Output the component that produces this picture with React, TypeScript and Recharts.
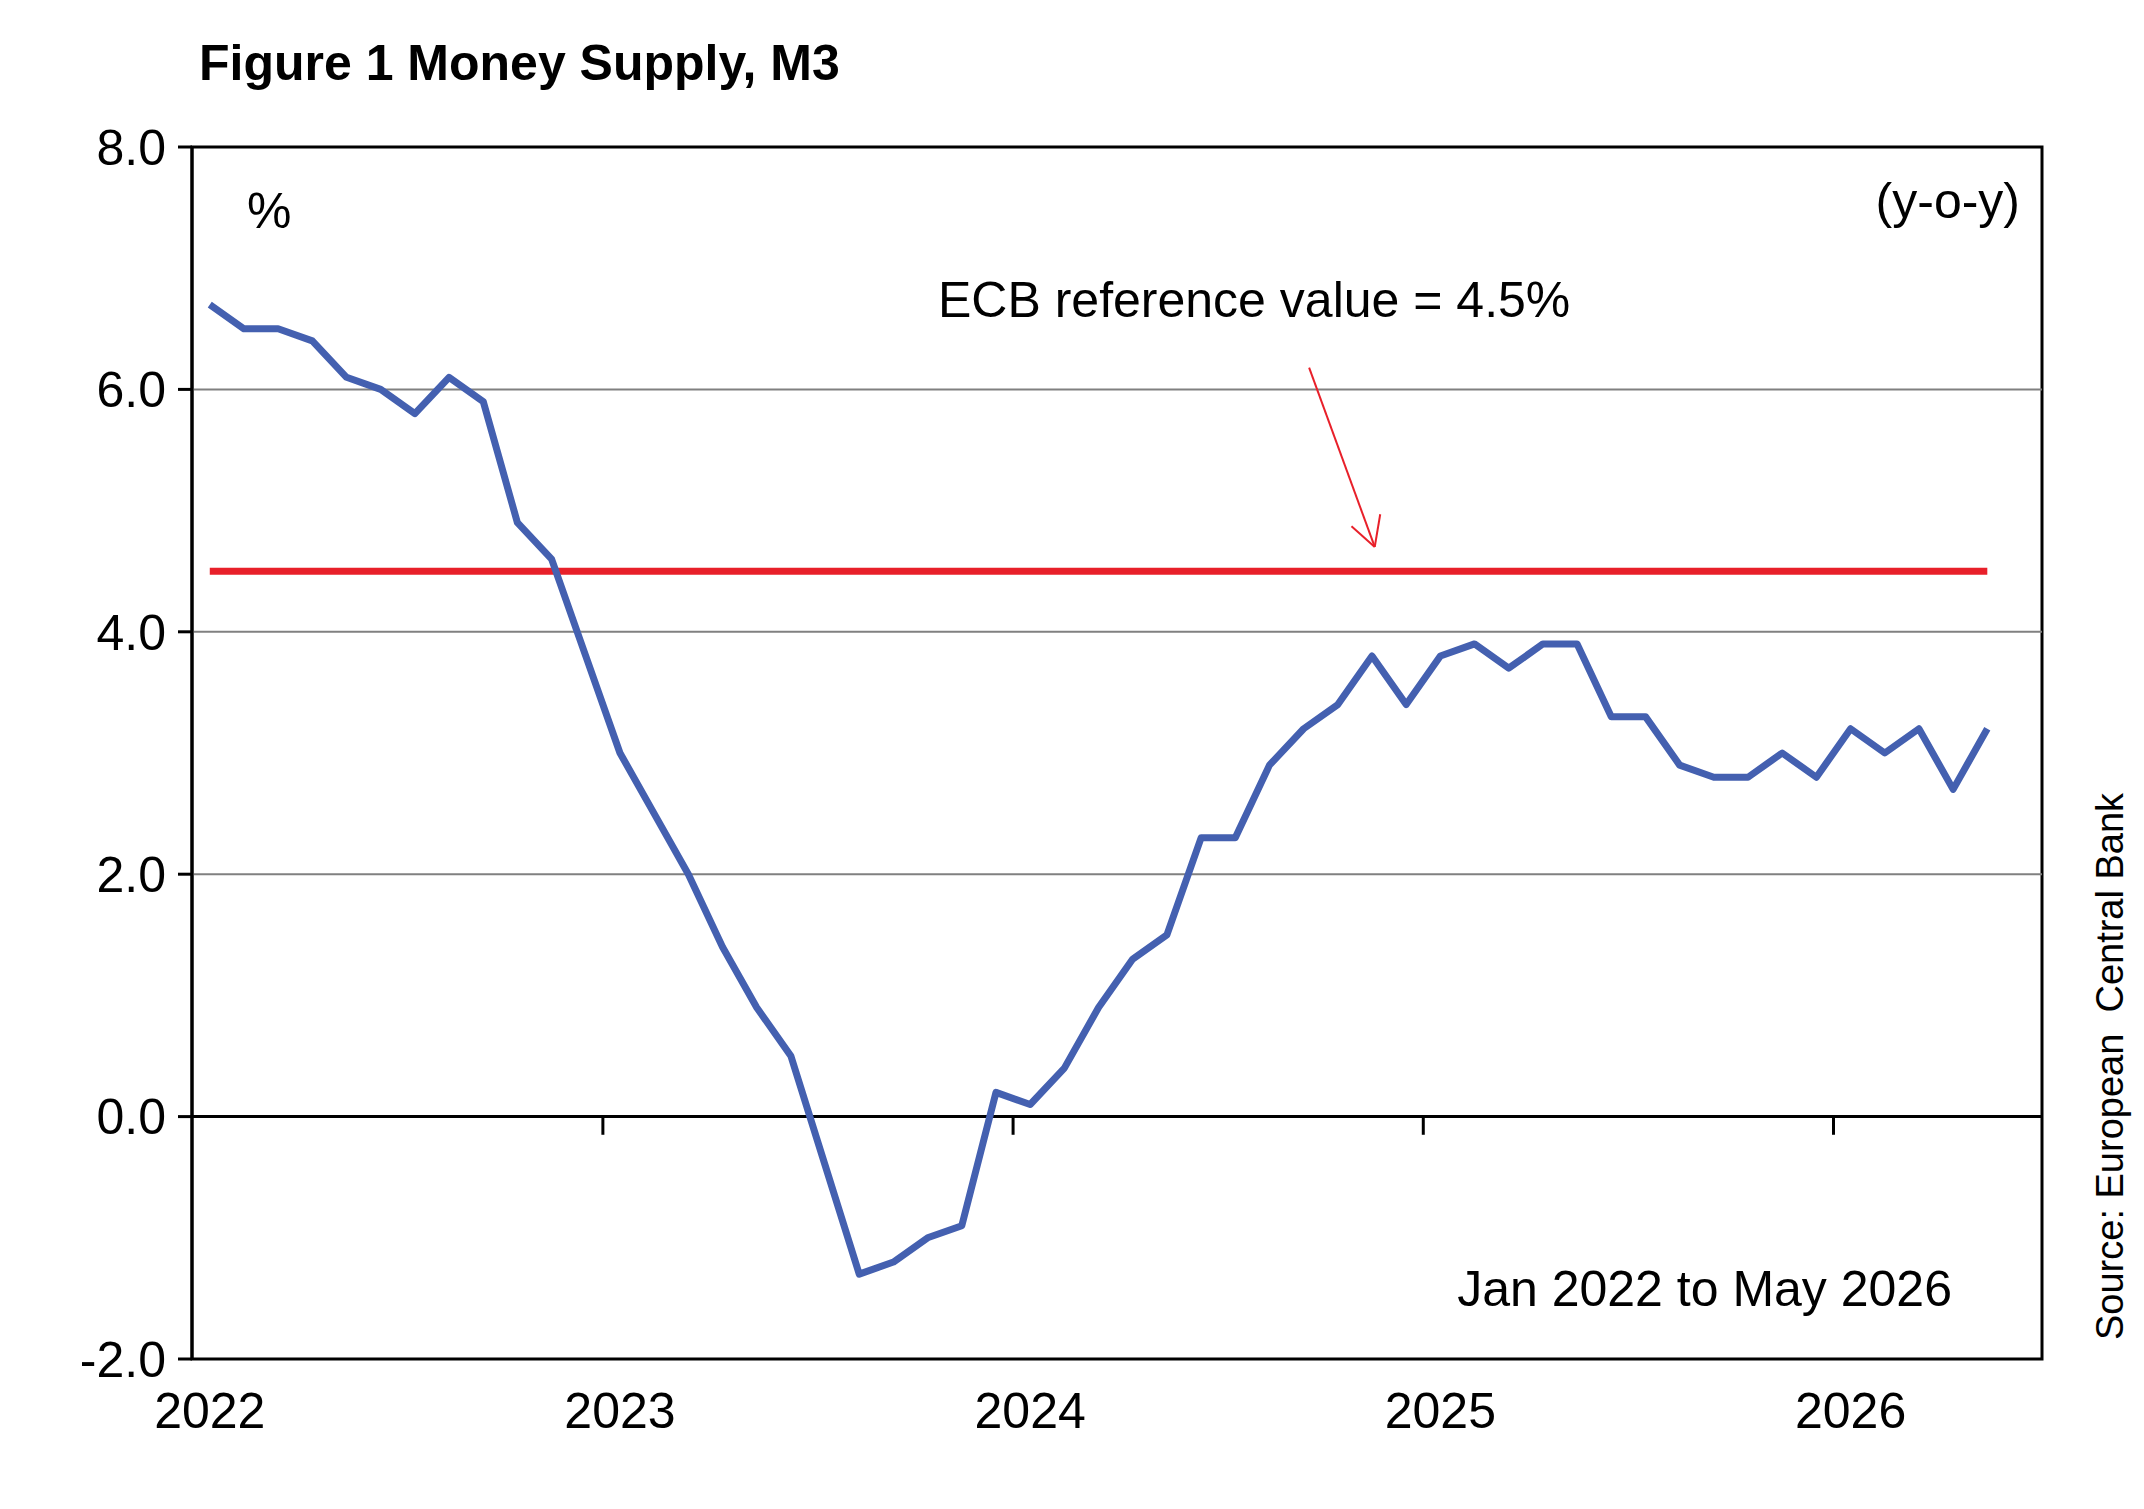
import React from 'react';
import { LineChart, Line, XAxis, YAxis, ReferenceLine, ReferenceArea } from 'recharts';

const months: number[] = Array.from({ length: 53 }, (_, i) => i);
const m3Growth: number[] = [
  6.7, 6.5, 6.5, 6.4, 6.1, 6.0, 5.8, 6.1, 5.9, 4.9, 4.6, 3.8,
  3.0, 2.5, 2.0, 1.4, 0.9, 0.5, -0.4, -1.3, -1.2, -1.0, -0.9, 0.2,
  0.1, 0.4, 0.9, 1.3, 1.5, 2.3, 2.3, 2.9, 3.2, 3.4, 3.8, 3.4,
  3.8, 3.9, 3.7, 3.9, 3.9, 3.3, 3.3, 2.9, 2.8, 2.8, 3.0, 2.8,
  3.2, 3.0, 3.2, 2.7, 3.2,
];
const ecbReference = 4.5;
const yearTicks = [0, 12, 24, 36, 48];
const yearLabels = ['2022', '2023', '2024', '2025', '2026'];
const yearBoundaries = [11.5, 23.5, 35.5, 47.5];
const yTicks = [-2, 0, 2, 4, 6, 8];

const data = months.map((m, i) => ({ m, m3: m3Growth[i], ref: ecbReference }));

const FONT = '"Liberation Sans", Arial, sans-serif';
const X_DOMAIN: [number, number] = [-0.52, 53.6];

const txt = (extra: React.CSSProperties): React.CSSProperties => ({
  position: 'absolute',
  fontFamily: FONT,
  fontSize: 50,
  lineHeight: 1,
  color: '#000',
  whiteSpace: 'nowrap',
  ...extra,
});

export default function App() {
  return (
    <div style={{ position: 'relative', margin: -8, width: 2144, height: 1509, background: '#fff', overflow: 'hidden' }}>
      <LineChart
        width={2144}
        height={1509}
        data={data}
        margin={{ top: 147, right: 102, left: 100, bottom: 90 }}
      >
        <ReferenceArea x1={X_DOMAIN[0]} x2={X_DOMAIN[1]} y1={-2} y2={8} fill="none" stroke="#000" strokeWidth={3} />
        {[2, 4, 6].map(v => (
          <ReferenceLine key={v} y={v} stroke="#808080" strokeWidth={2} />
        ))}
        <ReferenceLine y={0} stroke="#000" strokeWidth={3} />
        {yearBoundaries.map(x => (
          <ReferenceLine key={x} segment={[{ x, y: 0 }, { x, y: -0.15 }]} stroke="#000" strokeWidth={3} />
        ))}
        <XAxis
          dataKey="m"
          type="number"
          domain={X_DOMAIN}
          ticks={yearTicks}
          tickFormatter={(v: number) => yearLabels[yearTicks.indexOf(v)]}
          axisLine={false}
          tickLine={false}
          tickSize={0}
          tickMargin={33}
          height={60}
          tick={{ fill: '#000', fontSize: 50, fontFamily: FONT }}
          allowDataOverflow
        />
        <YAxis
          type="number"
          domain={[-2, 8]}
          ticks={yTicks}
          tickFormatter={(v: number) => v.toFixed(1)}
          axisLine={{ stroke: '#000', strokeWidth: 3 }}
          tickLine={{ stroke: '#000', strokeWidth: 3 }}
          tickSize={14}
          tickMargin={12}
          width={92}
          tick={{ fill: '#000', fontSize: 50, fontFamily: FONT }}
          allowDataOverflow
        />
        <Line dataKey="ref" stroke="#e8202a" strokeWidth={7} dot={false} isAnimationActive={false} />
        <Line dataKey="m3" stroke="#4460b0" strokeWidth={7} dot={false} isAnimationActive={false} strokeLinejoin="round" />
        <ReferenceLine segment={[{ x: 32.16, y: 6.18 }, { x: 34.08, y: 4.7 }]} stroke="#e8202a" strokeWidth={2} />
        <ReferenceLine segment={[{ x: 33.4, y: 4.87 }, { x: 34.08, y: 4.7 }]} stroke="#e8202a" strokeWidth={2} />
        <ReferenceLine segment={[{ x: 34.24, y: 4.97 }, { x: 34.08, y: 4.7 }]} stroke="#e8202a" strokeWidth={2} />
      </LineChart>
      <div style={txt({ left: 199, top: 38, fontWeight: 'bold', fontSize: 50 })}>Figure 1 Money Supply, M3</div>
      <div style={txt({ left: 247, top: 186 })}>%</div>
      <div style={txt({ right: 124, top: 176 })}>(y-o-y)</div>
      <div style={txt({ left: 938, top: 275 })}>ECB reference value = 4.5%</div>
      <div style={txt({ right: 192, top: 1264 })}>Jan 2022 to May 2026</div>
      <div
        style={txt({
          left: 2088,
          top: 1340,
          fontSize: 38,
          lineHeight: 1.2,
          transform: 'rotate(-90deg)',
          transformOrigin: '0 0',
        })}
      >
        Source: European&nbsp; Central Bank
      </div>
    </div>
  );
}
